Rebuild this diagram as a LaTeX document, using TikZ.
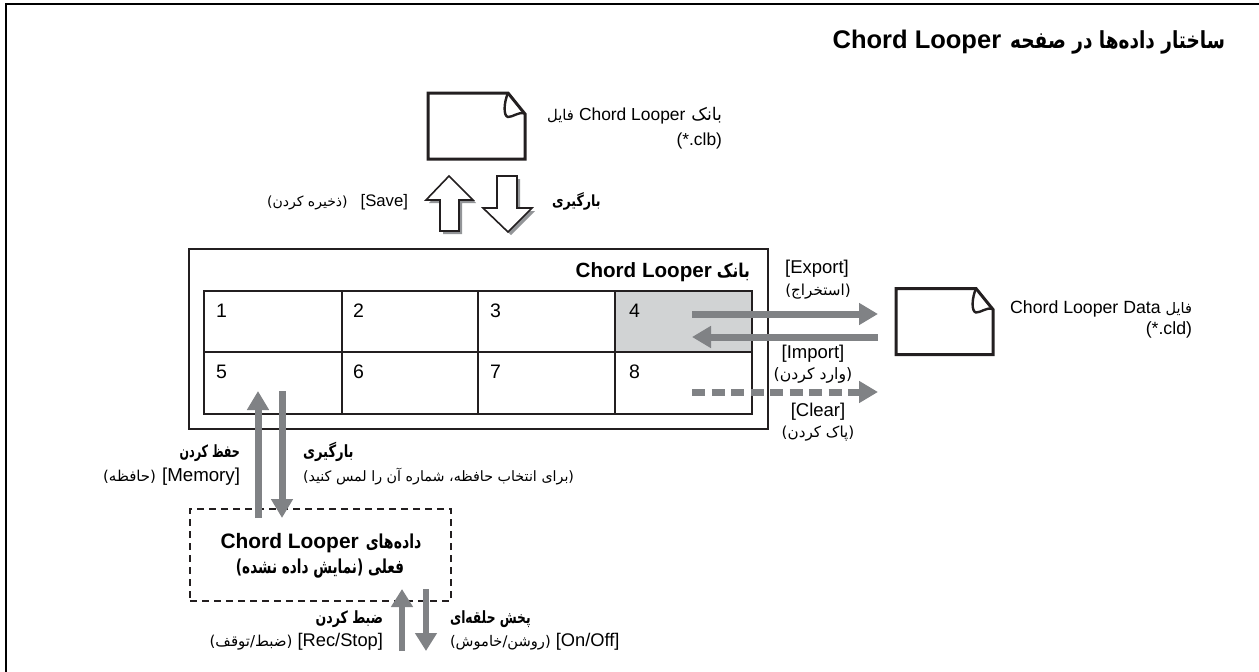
\documentclass[tikz,border=0pt]{standalone}
\usepackage{graphicx}
\usepackage{fontspec}
\usetikzlibrary{arrows.meta}
\setmainfont{Liberation Sans}
\newfontfamily\arfont[Script=Arabic]{DejaVu Sans}
\TeXXeTstate=1
\newcommand{\szz}{18pt}
\newcommand{\setsz}[1]{\renewcommand{\szz}{#1}\fontsize{#1}{#1}\selectfont}
\newcommand{\fa}[2][0.82]{{\fontsize{\dimexpr#1\dimexpr\szz\relax\relax}{1em}\selectfont\arfont\beginR #2\endR}}
\newcommand{\faB}[2][1]{\scalebox{#1}[1.18]{\fontsize{\dimexpr0.78\dimexpr\szz\relax\relax}{1em}\selectfont\arfont\bfseries\beginR #2\endR}}
\definecolor{arrowgray}{RGB}{128,130,133}
\definecolor{cellgray}{RGB}{209,211,212}
\definecolor{shadowgray}{RGB}{147,149,152}
\definecolor{inkk}{RGB}{35,31,32}
\tikzset{
  x=1pt,y=-1pt,
  txt/.style={inner sep=0pt,outer sep=0pt,text=black},
  lr/.style={txt,anchor=base east},
  ll/.style={txt,anchor=base west},
  lm/.style={txt,anchor=base},
  flow/.style={draw=arrowgray,line width=7pt,-{Triangle[length=19pt,width=21pt]}},
  flowthin/.style={draw=arrowgray,line width=6pt,-{Triangle[length=18pt,width=21pt]}},
  hollow/.style={draw=inkk,line width=1.6pt,fill=white,line join=miter},
  shade/.style={fill=shadowgray,draw=none},
  grid/.style={draw=inkk,line width=1.8pt},
  docpic/.pic={
    \draw[inkk,line width=3pt,fill=white,line join=miter] (0,0) -- (80,0) -- (97,21) -- (97,66) -- (0,66) -- cycle;
    \draw[inkk,line width=2.4pt] (80,0) .. controls (76,9) and (75,23) .. (80,24) .. controls (85,24) and (90,19) .. (97,20);
  },
}
\begin{document}
\begin{tikzpicture}
\useasboundingbox (0,0) rectangle (1259,672);
% page rules
\coordinate (pc) at (6,4);
\draw[black,line width=2pt] (6,672) -- (pc) -- (1259,4);
% title
\node[lr] (title) at (1225,48) {\setsz{25.5pt}\bfseries Chord Looper\hspace{9pt}\faB[0.93]{ساختار داده‌ها در صفحه}};

% bank file
\pic at (428,93) {docpic};
\node[lr] (bankA) at (722,120) {\setsz{17.4pt}\fa[0.85]{فایل}\hspace{5pt}Chord Looper\hspace{6pt}\fa[1.0]{بانک}};
\node[lr] (bankB) at (722,145) {\setsz{17.4pt}(*.clb)};

% save / load block arrows
\path[shade,shift={(3,3)}] (449,176) -- (473,200) -- (459,200) -- (459,231) -- (440,231) -- (440,200) -- (426,200) -- cycle;
\path[hollow] (449,176) -- (473,200) -- (459,200) -- (459,231) -- (440,231) -- (440,200) -- (426,200) -- cycle;
\path[shade,shift={(3,3)}] (497,176) -- (517,176) -- (517,208) -- (532,208) -- (508,232) -- (483,208) -- (497,208) -- cycle;
\path[hollow] (497,176) -- (517,176) -- (517,208) -- (532,208) -- (508,232) -- (483,208) -- (497,208) -- cycle;
\node[lr] (save) at (408,206) {\setsz{16.7pt}\fa[0.84]{(ذخیره کردن)}\hspace{13pt}[Save]};
\node[ll] (load) at (552,206) {\setsz{16.7pt}\faB[0.97]{بارگیری}};

% bank
\draw[inkk,line width=2.4pt] (189,249) rectangle (768,429);
\node[lr] (banktitle) at (750,277) {\setsz{20.6pt}\bfseries Chord Looper\hspace{5pt}\faB[0.96]{بانک}};
\fill[cellgray] (615,291) rectangle (752,352);
\draw[grid] (204,291) rectangle (752,414);
\draw[grid] (204,352) -- (752,352);
\draw[grid] (342,291) -- (342,414);
\draw[grid] (478,291) -- (478,414);
\draw[grid] (615,291) -- (615,414);
\foreach \n/\x/\y in {1/216/317,2/353/317,3/490/317,4/629/317,5/216/378,6/353/378,7/490/378,8/629/378}
  \node[ll] (cell\n) at (\x,\y) {\setsz{19.5pt}\n};

% data file
\pic at (896,288.5) {docpic};
\node[lr] (dataA) at (1192,313) {\setsz{17.7pt}Chord Looper Data \fa{فایل}};
\node[lr] (dataB) at (1192,334) {\setsz{17.7pt}(*.cld)};

% horizontal flows
\coordinate (expS) at (692,314); \coordinate (expE) at (878,314);
\coordinate (impS) at (878,337); \coordinate (impE) at (692,337);
\coordinate (clrS) at (692,392); \coordinate (clrE) at (878,392);
\draw[flow] (expS) -- (expE);
\draw[flow] (impS) -- (impE);
\draw[flow,dash pattern=on 13.3pt off 6.2pt] (clrS) -- (clrE);
\node[lm] (exp1) at (817,273) {\setsz{18.5pt}[Export]};
\node[lm] (exp2) at (818,295) {\setsz{18.5pt}\fa{(استخراج)}};
\node[lm] (imp1) at (813,358) {\setsz{18.5pt}[Import]};
\node[lm] (imp2) at (813,379) {\setsz{18.5pt}\fa[0.85]{(وارد کردن)}};
\node[lm] (clr1) at (818,416) {\setsz{18.5pt}[Clear]};
\node[lm] (clr2) at (818,437) {\setsz{18.5pt}\fa{(پاک کردن)}};

% current data
\node[draw=inkk,line width=2.3pt,dash pattern=on 7pt off 5pt,minimum width=261pt,minimum height=92pt,inner sep=0pt,anchor=north west] (cur) at (189,508) {};
\node[lm] (cur1) at (321,548) {\setsz{20.9pt}\bfseries Chord Looper\hspace{7pt}\faB[0.865]{داده‌های}};
\node[lm] (cur2) at (320,573) {\setsz{20.9pt}\faB[0.836]{فعلی (نمایش داده نشده)}};

% memory flows
\coordinate (memS) at (258,518); \coordinate (memE) at (258,391);
\coordinate (recS) at (282,391); \coordinate (recE) at (282,518);
\draw[flow] (memS) -- (memE);
\draw[flow] (recS) -- (recE);
\node[lr] (mem1) at (240,457) {\setsz{18.3pt}\faB[0.78]{حفظ کردن}};
\node[lr] (mem2) at (240,481) {\setsz{18.7pt}\fa[0.8]{(حافظه)}\hspace{6pt}[Memory]};
\node[ll] (rec1) at (303,457) {\setsz{18.3pt}\faB[0.92]{بارگیری}};
\node[ll] (rec2) at (303,481) {\setsz{18.3pt}\fa[0.78]{(برای انتخاب حافظه، شماره آن را لمس کنید)}};

% bottom flows
\coordinate (rsS) at (402,651); \coordinate (rsE) at (402,589);
\coordinate (ooS) at (426,589); \coordinate (ooE) at (426,651);
\draw[flowthin] (rsS) -- (rsE);
\draw[flowthin] (ooS) -- (ooE);
\node[lr] (rs1) at (383,623) {\setsz{18.3pt}\faB[0.88]{ضبط کردن}};
\node[lr] (rs2) at (383,646) {\setsz{18.3pt}\fa{(ضبط/توقف)}\hspace{5pt}[Rec/Stop]};
\node[ll] (oo1) at (450,623) {\setsz{18.3pt}\faB[0.86]{پخش حلقه‌ای}};
\node[ll] (oo2) at (450,646) {\setsz{18.3pt}\fa[0.8]{(روشن/خاموش)} [On/Off]};
\end{tikzpicture}
\end{document}
